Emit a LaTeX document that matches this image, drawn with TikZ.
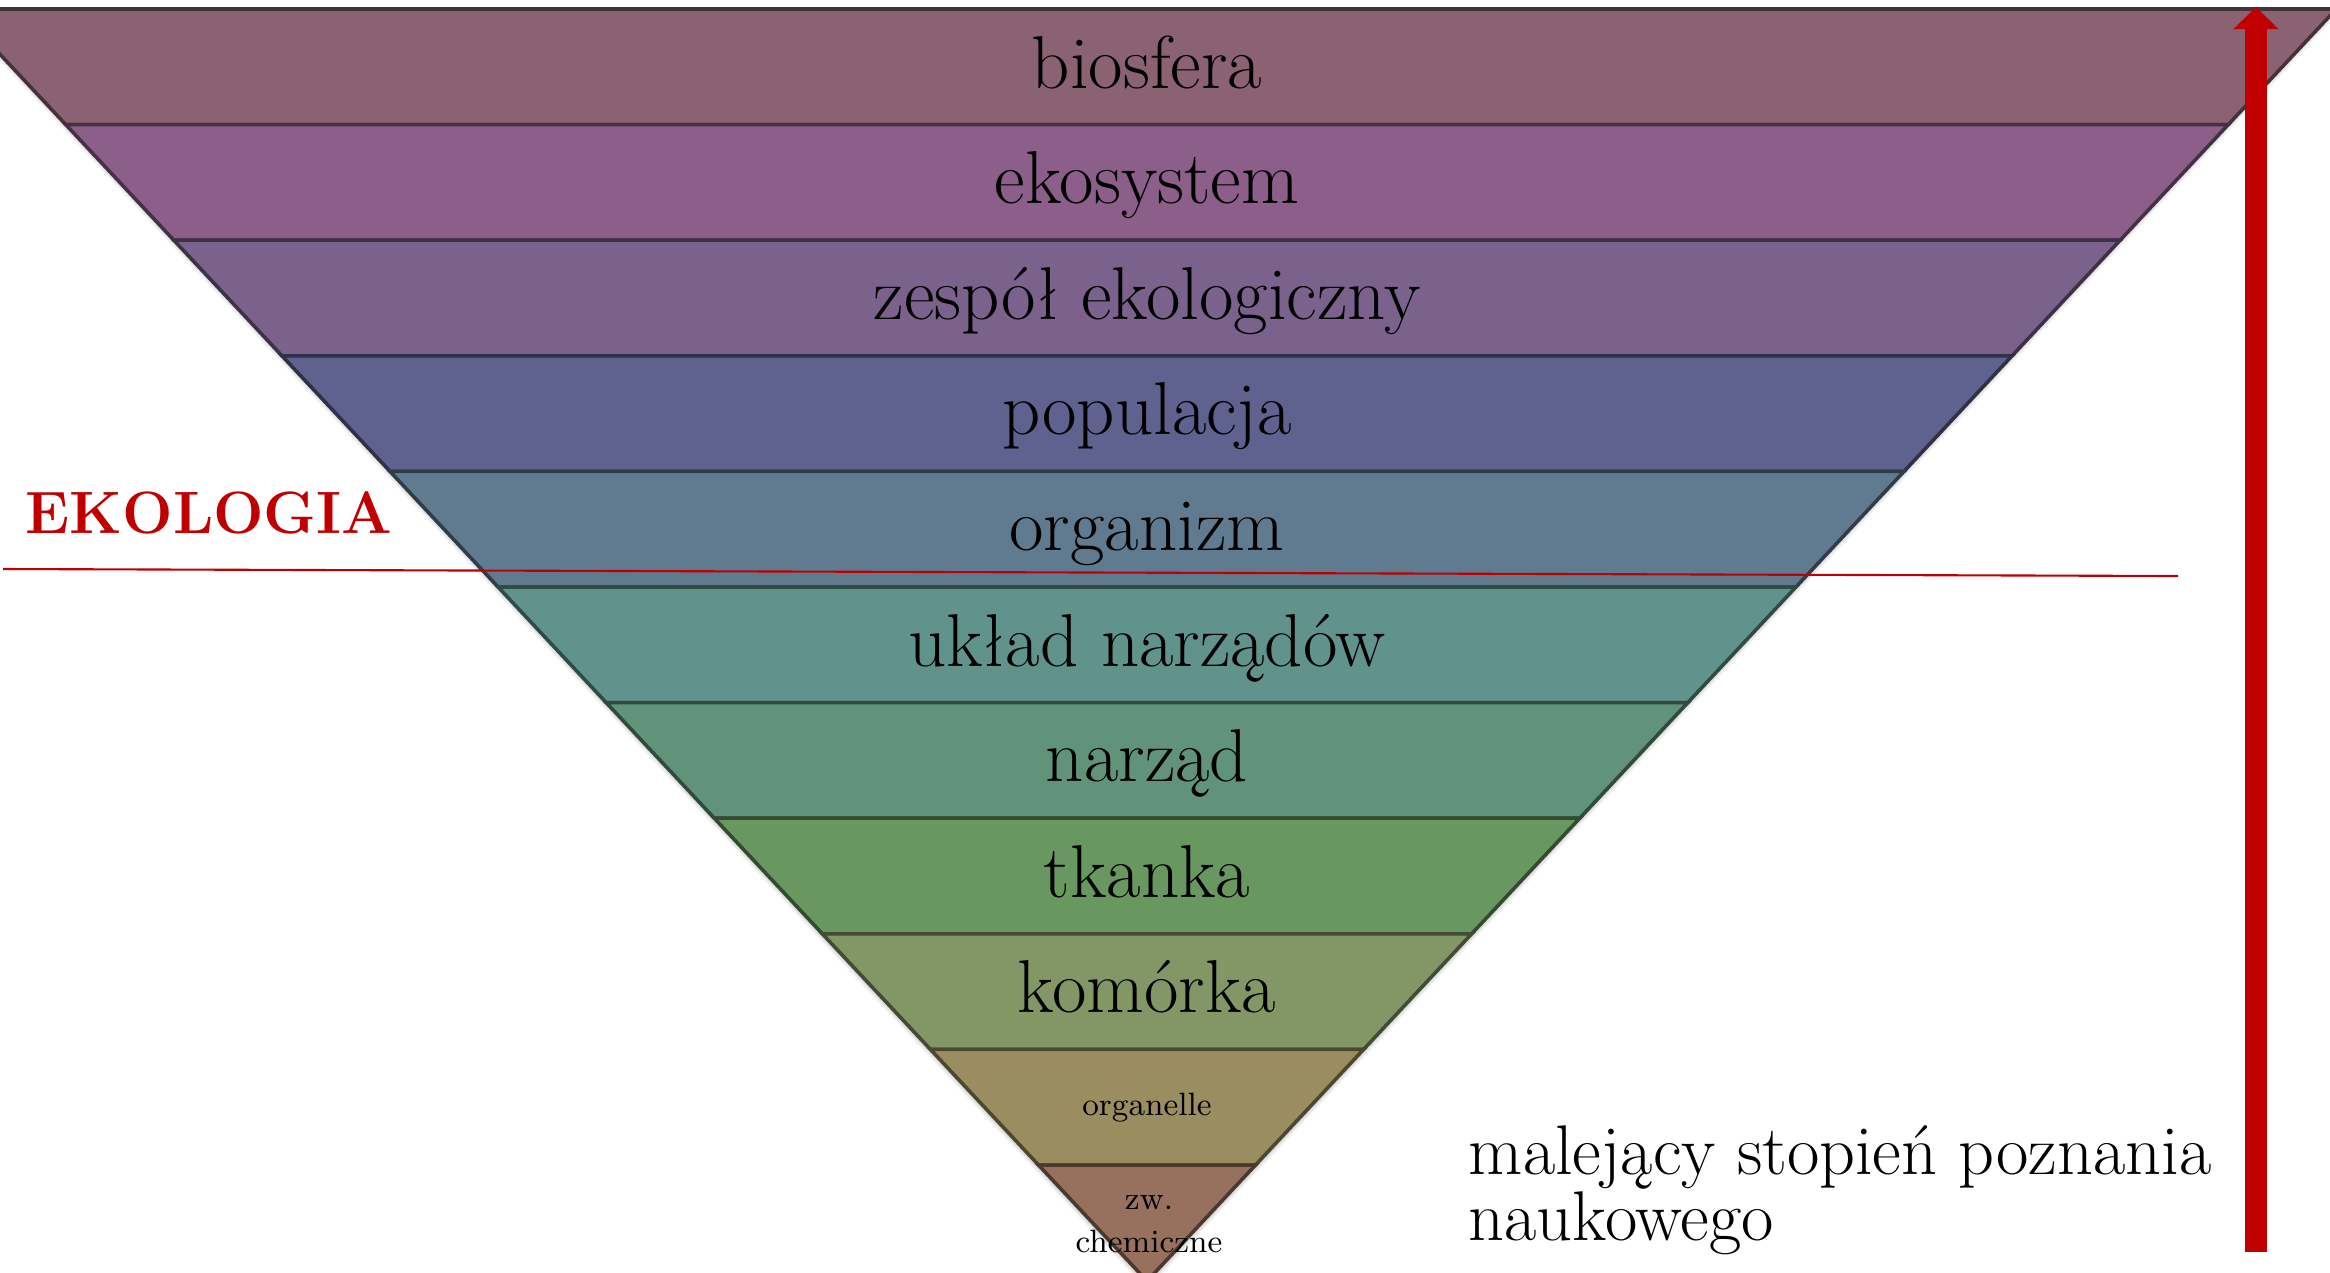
\documentclass[tikz,border=0pt]{standalone}
\usepackage{fontspec}
\usetikzlibrary{arrows.meta,shadows.blur}

% band fills, from the top of the funnel to its tip
\definecolor{lvA}{HTML}{8B6272}
\definecolor{lvB}{HTML}{8B5F8A}
\definecolor{lvC}{HTML}{7A628C}
\definecolor{lvD}{HTML}{5F618E}
\definecolor{lvE}{HTML}{607B90}
\definecolor{lvF}{HTML}{61938D}
\definecolor{lvG}{HTML}{61937A}
\definecolor{lvH}{HTML}{68975F}
\definecolor{lvI}{HTML}{839766}
\definecolor{lvJ}{HTML}{9A8E60}
\definecolor{lvK}{HTML}{97705E}
\definecolor{ekored}{HTML}{C00000}

\tikzset{
  bandshape/.style={line width=1pt, line join=miter},
  bandlabel/.style={anchor=base, inner sep=0pt, font=\fontsize{21.3}{25}\selectfont},
  smalllabel/.style={anchor=base, inner sep=0pt, align=center, font=\fontsize{9.2}{12}\selectfont},
  ekolabel/.style={anchor=base west, inner sep=0pt, text=ekored, font=\fontsize{17}{20}\selectfont\bfseries},
  ekoline/.style={draw=ekored, line width=0.6pt},
  bigarrow/.style={draw=ekored, line width=6.3pt, -{Triangle[width=12.5pt,length=6.3pt]}},
  notelabel/.style={anchor=base west, inner sep=0pt, align=left,
    font=\fontsize{20}{20}\selectfont}
}

\begin{document}
\begin{tikzpicture}[x=0.01cm, y=-0.01cm]
  \useasboundingbox (0,0) rectangle (2330,1272);
  \clip (0,0) rectangle (2330,1272);

  % soft shadow under the whole funnel
  \fill[white, blur shadow={shadow xshift=0pt, shadow yshift=-0.7pt, shadow blur radius=1.4pt, shadow opacity=40}]
    (1147-1187.5,9) -- (1147+1187.5,9) -- (1147,1281) -- cycle;

  % eleven stacked bands of the inverted pyramid
  \foreach \col [count=\i from 0] in {lvA,lvB,lvC,lvD,lvE,lvF,lvG,lvH,lvI,lvJ,lvK} {
    \pgfmathsetmacro\yt{9+115.6*\i}
    \pgfmathsetmacro\yb{\yt+115.6}
    \pgfmathsetmacro\wt{(1281-\yt)*0.935}
    \pgfmathsetmacro\wb{max((1281-\yb)*0.935,0)}
    \filldraw[bandshape, fill=\col, draw=\col!50!black]
      (1147-\wt,\yt) -- (1147+\wt,\yt) -- (1147+\wb,\yb) -- (1147-\wb,\yb) -- cycle;
  }

  % level names
  \node[bandlabel] (biosfera)   at (1147,88)   {biosfera};
  \node[bandlabel] (ekosystem)  at (1147,203.6) {ekosystem};
  \node[bandlabel] (zespol)     at (1147,319.2) {zespół ekologiczny};
  \node[bandlabel] (populacja)  at (1147,434.8) {populacja};
  \node[bandlabel] (organizm)   at (1147,550.4) {organizm};
  \node[bandlabel] (uklad)      at (1147,666)   {układ narządów};
  \node[bandlabel] (narzad)     at (1147,781.6) {narząd};
  \node[bandlabel] (tkanka)     at (1147,897.2) {tkanka};
  \node[bandlabel] (komorka)    at (1147,1012.8) {komórka};
  \node[smalllabel] (organelle) at (1147,1115)  {organelle};
  \node[smalllabel] (zwiazki)   at (1149,1252)  {zw.\\chemiczne};

  % boundary of ecology
  \node[ekolabel] (ekologia) at (25,533) {EKOLOGIA};
  \coordinate (ekoL) at (3,569);
  \coordinate (ekoR) at (2178,576);
  \draw[ekoline] (ekoL) -- (ekoR);

  % direction of decreasing knowledge
  \coordinate (arrB) at (2256,1252);
  \coordinate (arrT) at (2256,7);
  \draw[bigarrow] (arrB) -- (arrT);
  \node[notelabel] (note) at (1468,1240) {malejący stopień poznania\\[-1.5pt]naukowego};
\end{tikzpicture}
\end{document}
